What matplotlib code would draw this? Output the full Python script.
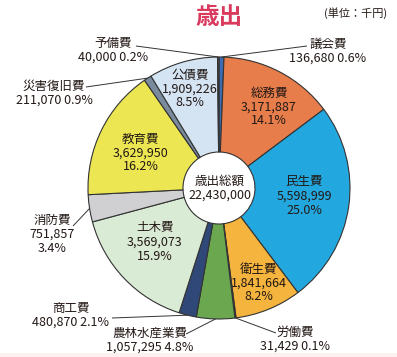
import matplotlib
matplotlib.use('Agg')
import matplotlib.pyplot as plt
from matplotlib.patches import Rectangle
import numpy as np

plt.rcParams['font.family'] = ['Noto Sans CJK JP', 'DejaVu Sans']

# expenditure items, clockwise from the top (unit: 1,000 yen)
names = ['議会費', '総務費', '民生費', '衛生費', '労働費', '農林水産業費', '商工費',
         '土木費', '消防費', '教育費', '災害復旧費', '公債費', '予備費']
values = [136680, 3171887, 5598999, 1841664, 31429, 1057295, 480870,
          3569073, 751857, 3629950, 211070, 1909226, 40000]
pcts = ['0.6', '14.1', '25.0', '8.2', '0.1', '4.8', '2.1',
        '15.9', '3.4', '16.2', '0.9', '8.5', '0.2']
colors = ['#3b6cb4', '#e67d4b', '#22a8df', '#f4b43d', '#8c8c8c', '#6aa74f', '#2f4877',
          '#d9ebd5', '#d0d0d2', '#ebe652', '#7b8b9e', '#d4e4f3', '#5a5a5a']
total_label = '歳出総額\n22,430,000'

W, H = 397, 357
cx, cy = 219, 188      # pie centre in picture pixels (y from top)
r_out, r_in = 131, 36

# label placement: centre of text block (pixels from top-left), kind, leader start
layout = {
    '議会費': (328, 51, 'out', (307, 46)),
    '総務費': (269, 107, 'in', None),
    '民生費': (304, 196, 'in', None),
    '衛生費': (259, 283, 'in', None),
    '労働費': (295, 339, 'out', (276, 333)),
    '農林水産業費': (150, 340, 'out', (186, 334)),
    '商工費': (71, 315, 'out', (112, 318)),
    '土木費': (155, 242, 'in', None),
    '消防費': (52, 234, 'out3', (73, 226)),
    '教育費': (141, 153, 'in', None),
    '災害復旧費': (54, 93, 'out', (86, 87)),
    '公債費': (190, 89, 'in', None),
    '予備費': (113, 50, 'out', (136, 46)),
}

txt_color = '#231815'


def fy(y):
    return H - y


fig = plt.figure(figsize=(W / 100, H / 100), dpi=100)
ax = fig.add_axes([0, 0, 1, 1])

ax.pie(values, colors=colors, startangle=90, counterclock=False,
       radius=r_out, center=(cx, fy(cy)),
       wedgeprops=dict(width=r_out - r_in, edgecolor='#333333', linewidth=0.8))

ax.set_xlim(0, W)
ax.set_ylim(0, H)
ax.set_aspect('equal')
ax.axis('off')

# mid angles of the wedges, clockwise from the top
vals = np.array(values, dtype=float)
cum = np.cumsum(vals) - vals / 2
theta = np.deg2rad(360 * cum / vals.sum())

for i, name in enumerate(names):
    x, y, kind, start = layout[name]
    v = f'{values[i]:,}'
    if kind in ('in', 'out3'):
        s = f'{name}\n{v}\n{pcts[i]}%'
    else:
        s = f'{name}\n{v} {pcts[i]}%'
    ax.text(x, fy(y), s, ha='center', va='center', fontsize=9,
            color=txt_color, linespacing=1.1)
    if start is not None:
        ex = cx + r_out * np.sin(theta[i])
        ey = cy - r_out * np.cos(theta[i])
        ax.plot([start[0], ex], [fy(start[1]), fy(ey)], color='#333333', lw=0.7,
                solid_capstyle='butt')

ax.text(cx + 1, fy(cy), total_label, ha='center', va='center', fontsize=9,
        color=txt_color, linespacing=1.05)

ax.text(219, fy(17), '歳出', ha='center', va='center', fontsize=17,
        fontweight='bold', color='#d93a5e')
ax.text(356, fy(13), '(単位：千円)', ha='center', va='center', fontsize=8,
        color=txt_color)

ax.add_patch(Rectangle((0, 0), W, 4.5, color='#fcf1f0', lw=0))

fig.savefig('out.png', dpi=100)
